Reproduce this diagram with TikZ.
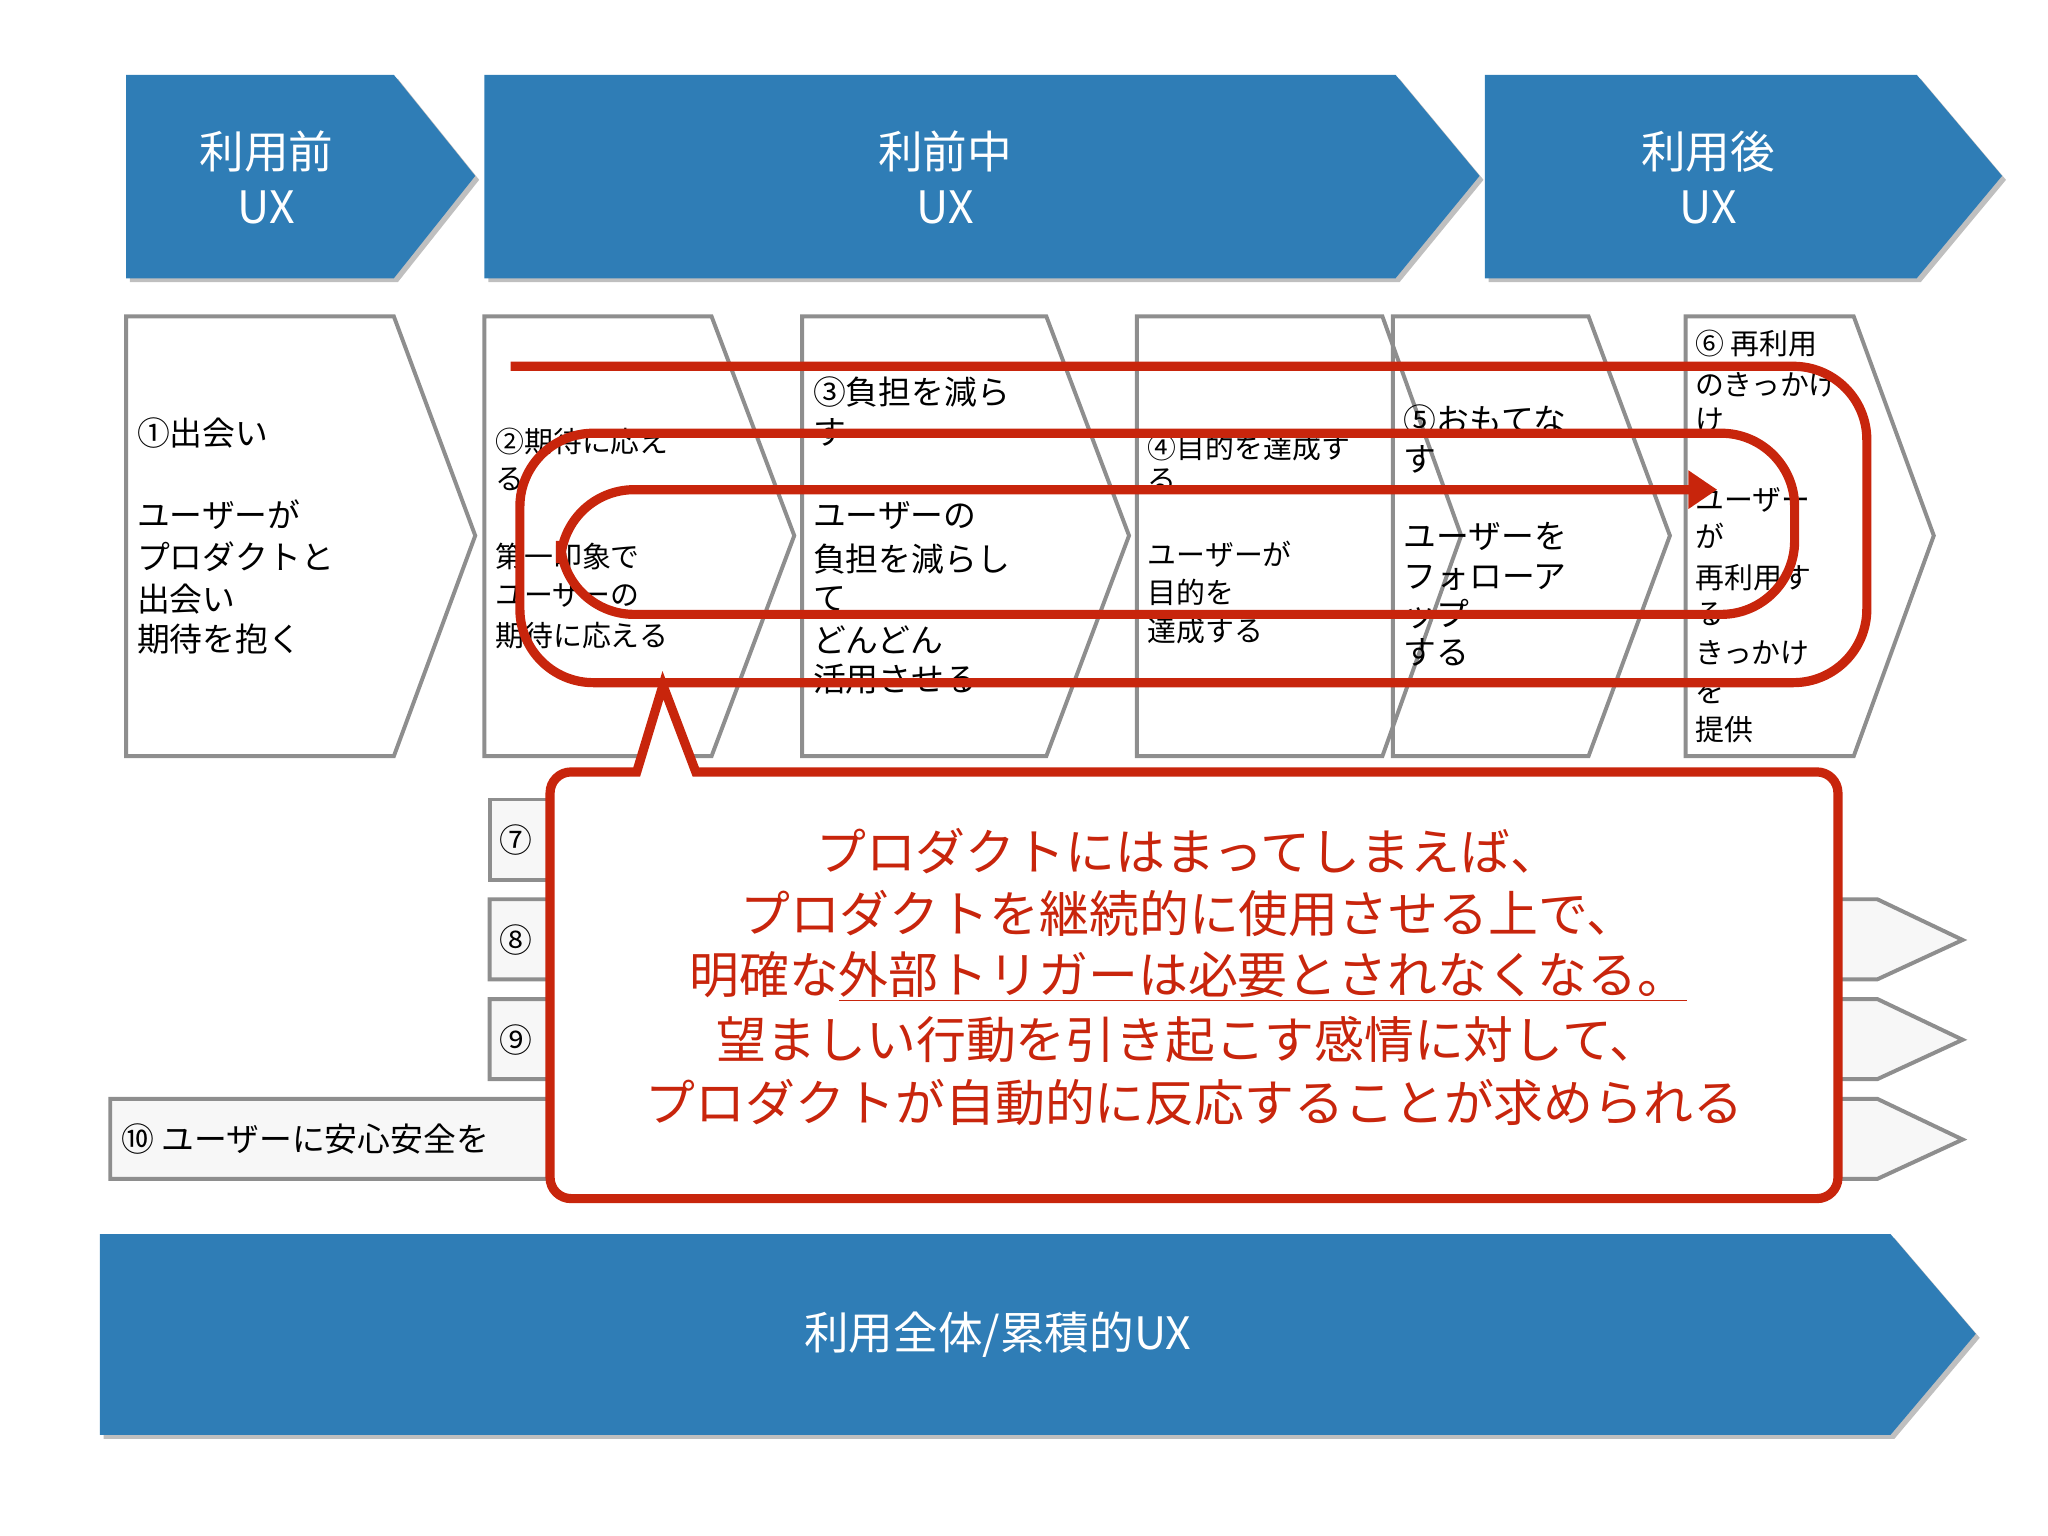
\documentclass[tikz,border=0pt]{standalone}
\usepackage{fontspec}
\setmainfont{Noto Sans CJK JP}
\usetikzlibrary{arrows.meta}
\definecolor{uxblue}{HTML}{2F7DB6}
\definecolor{uxred}{HTML}{C8250C}
\definecolor{uxgray}{HTML}{8E8E8E}
\tikzset{
  hdr/.style={fill=uxblue},
  shd/.style={fill=black!25},
  boxline/.style={draw=uxgray,line width=1.5pt,line join=miter},
  bt/.style={anchor=west,inner sep=0pt,font=\fontsize{12.5}{14}\selectfont},
  bts/.style={anchor=west,inner sep=0pt,font=\fontsize{11}{13}\selectfont},
  ht/.style={text=white,align=center,font=\fontsize{17}{21}\selectfont},
  loop/.style={draw=uxred,line width=3.5pt,rounded corners=28pt},
  ct/.style={text=uxred,inner sep=0pt,font=\fontsize{19}{22}\selectfont}
}
\begin{document}
\begin{tikzpicture}[x=0.5pt,y=-0.5pt]
\useasboundingbox (0,0) rectangle (1560,1170);
% header chevrons
\foreach \a/\b/\c [count=\i] in {96/300/362,369/1063/1127,1131/1460/1525}{
  \fill[shd] (\a+3,60) -- (\b+3,60) -- (\c+3,137) -- (\b+3,215) -- (\a+3,215) -- cycle;
  \fill[hdr] (\a,57) -- (\b,57) -- (\c,134) -- (\b,212) -- (\a,212) -- cycle;
}
\node[ht] (h1) at (203,135) {利用前\\UX};
\node[ht] (h2) at (720,135) {利前中\\UX};
\node[ht] (h3) at (1301,135) {利用後\\UX};
% step boxes
\filldraw[boxline,fill=white] (96,241) -- (300,241) -- (362,408) -- (300,576) -- (96,576) -- cycle;
\draw[boxline] (369,241) -- (542,241) -- (605,408) -- (542,576) -- (369,576) -- cycle;
\draw[boxline] (611,241) -- (797,241) -- (860,408) -- (797,576) -- (611,576) -- cycle;
\draw[boxline] (866,241) -- (1053,241) -- (1113,408) -- (1053,576) -- (866,576) -- cycle;
\draw[boxline] (1061,241) -- (1210,241) -- (1272,408) -- (1210,576) -- (1061,576) -- cycle;
\draw[boxline] (1284,241) -- (1412,241) -- (1473,408) -- (1412,576) -- (1284,576) -- cycle;
\foreach \yy/\tx [count=\i] in {330/①出会い,392/ユーザーが,424/プロダクトと,456/出会い,487/期待を抱く}
  \node[bt] (ba\i) at (104,\yy) {\tx};
\foreach \yy/\tx [count=\i] in {336/②期待に応え,365/る,424/第一印象で,453/ユーザーの,484/期待に応える}
  \node[bts] (bb\i) at (377,\yy) {\tx};
\foreach \yy/\tx [count=\i] in {299/③負担を減ら,329/す,393/ユーザーの,426/負担を減らし,456/て,487/どんどん,517/活用させる}
  \node[bt] (bc\i) at (619,\yy) {\tx};
\foreach \yy/\tx [count=\i] in {341/④目的を達成す,366/る,422/ユーザーが,451/目的を,480/達成する}
  \node[bts] (bd\i) at (874,\yy) {\tx};
\foreach \yy/\tx [count=\i] in {320/⑤おもてな,350/す,409/ユーザーを,440/フォローア,468/ップ,497/する}
  \node[bt] (be\i) at (1069,\yy) {\tx};
\foreach \yy/\tx [count=\i] in {262/⑥ 再利用,293/のきっかけ,320/け,381/ユーザー,408/が,440/再利用す,468/る,497/きっかけ,527/を,556/提供}
  \node[bts] (bf\i) at (1291,\yy) {\tx};
% rows 7-10
\filldraw[boxline,fill=black!3] (373,609) rectangle (1300,670);
\filldraw[boxline,fill=black!3] (373,685) -- (1430,685) -- (1495,716) -- (1430,746) -- (373,746) -- cycle;
\filldraw[boxline,fill=black!3] (373,761) -- (1430,761) -- (1495,792) -- (1430,822) -- (373,822) -- cycle;
\filldraw[boxline,fill=black!3] (84,837) -- (1430,837) -- (1495,868) -- (1430,898) -- (84,898) -- cycle;
\node[bt] (r7) at (380,640) {⑦};
\node[bt] (r8) at (380,716) {⑧};
\node[bt] (r9) at (380,792) {⑨};
\node[bt] (r10) at (92,868) {⑩\ ユーザーに安心安全を};
% bottom chevron
\fill[shd] (79,943) -- (1443,943) -- (1508,1019) -- (1443,1096) -- (79,1096) -- cycle;
\fill[hdr] (76,940) -- (1440,940) -- (1505,1016) -- (1440,1093) -- (76,1093) -- cycle;
\node[ht] (hall) at (760,1017) {利用全体/累積的UX};
% red spiral
\coordinate (s0) at (389,279);
\coordinate (s9) at (1308,373);
\draw[loop,-{Triangle[length=11pt,width=14pt]}] (s0) -- (1422,279) -- (1422,520) -- (396,520) -- (396,330) -- (1367,330) -- (1367,468) -- (427,468) -- (427,373) -- (s9);
% callout
\filldraw[draw=uxred,fill=white,line width=3.5pt,line join=miter]
  (434,588) -- (485,588) -- (505,522) -- (530,588) -- (1385,588)
  [rounded corners=8pt] -- (1400,588) -- (1400,913) -- (419,913) -- (419,588) [sharp corners] -- (434,588);
\node[ct] (c1) at (905,648) {プロダクトにはまってしまえば、};
\node[ct] (c2) at (905,696) {プロダクトを継続的に使用させる上で、};
\node[ct] (c3) at (905,744) {明確な\underline{外部トリガーは必要とされなくなる。}};
\node[ct] (c4) at (905,792) {望ましい行動を引き起こす感情に対して、};
\node[ct] (c5) at (910,840) {プロダクトが自動的に反応することが求められる};
\end{tikzpicture}
\end{document}
